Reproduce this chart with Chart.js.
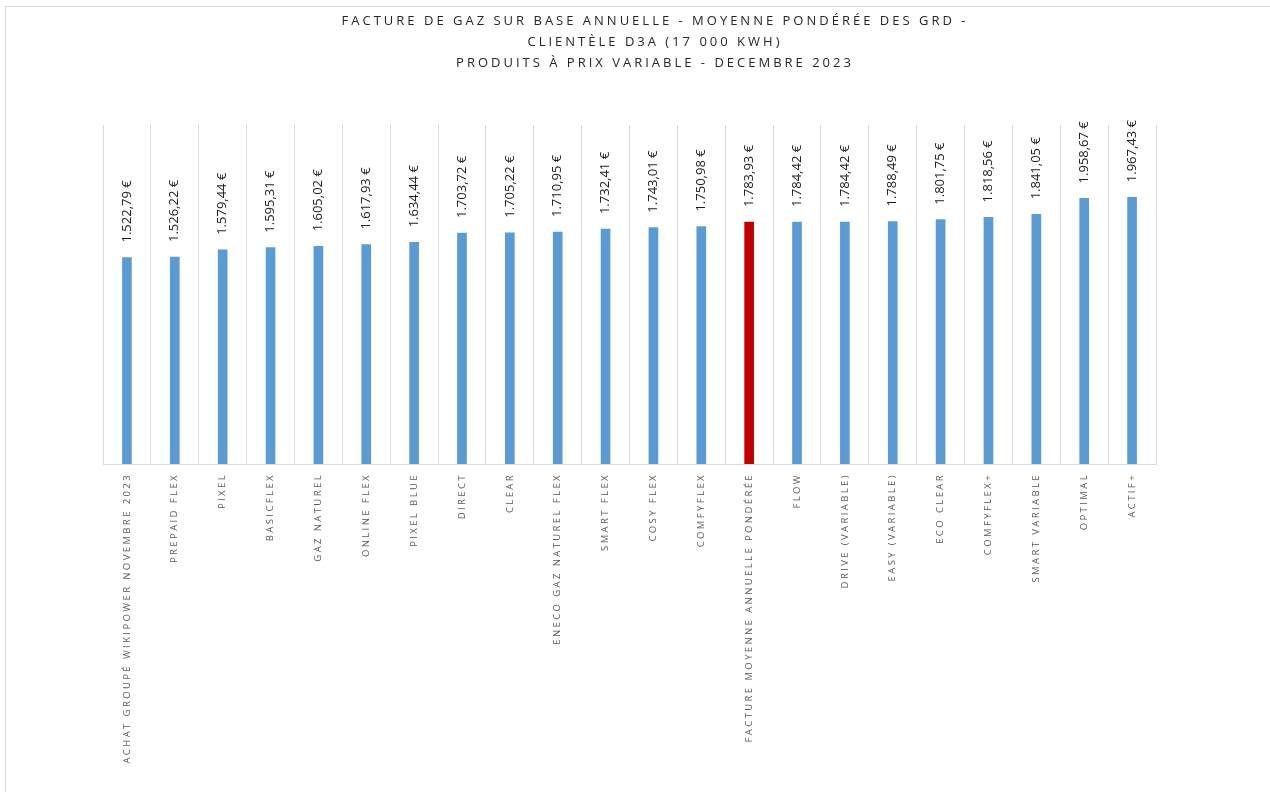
<!DOCTYPE html>
<html>
<head>
<meta charset="utf-8">
<script src="https://cdn.jsdelivr.net/npm/chart.js@4.4.1/dist/chart.umd.min.js"></script>
<style>
  html, body { margin: 0; padding: 0; background: #fff; }
  canvas { display: block; }
</style>
</head>
<body>
<canvas id="chart" width="1270" height="792"></canvas>
<script>
const titleLines = [
  'FACTURE DE GAZ SUR BASE ANNUELLE - MOYENNE PONDÉRÉE DES GRD -',
  'CLIENTÈLE D3A (17 000 KWH)',
  'PRODUITS À PRIX VARIABLE - DECEMBRE 2023'
];
const categories = [
  'ACHAT GROUPÉ WIKIPOWER NOVEMBRE 2023', 'PREPAID FLEX', 'PIXEL', 'BASICFLEX', 'GAZ NATUREL',
  'ONLINE FLEX', 'PIXEL BLUE', 'DIRECT', 'CLEAR', 'ENECO GAZ NATUREL FLEX', 'SMART FLEX',
  'COSY FLEX', 'COMFYFLEX', 'FACTURE MOYENNE ANNUELLE PONDÉRÉE', 'FLOW', 'DRIVE (VARIABLE)',
  'EASY (VARIABLE)', 'ECO CLEAR', 'COMFYFLEX+', 'SMART VARIABLE', 'OPTIMAL', 'ACTIF+'
];
const values = [
  1522.79, 1526.22, 1579.44, 1595.31, 1605.02, 1617.93, 1634.44, 1703.72, 1705.22, 1710.95, 1732.41,
  1743.01, 1750.98, 1783.93, 1784.42, 1784.42, 1788.49, 1801.75, 1818.56, 1841.05, 1958.67, 1967.43
];
const averageIndex = 13;
const yMax = 2500;

const BLUE = '#5b9bd5';
const RED = '#c00000';

const fmtEuro = (v) => {
  const [int, dec] = v.toFixed(2).split('.');
  return int.replace(/\B(?=(\d{3})+(?!\d))/g, '.') + ',' + dec + ' €';
};

const textPlugin = {
  id: 'texts',
  beforeDraw(chart) {
    const ctx = chart.ctx;
    ctx.save();
    ctx.strokeStyle = '#d9d9d9';
    ctx.lineWidth = 1;
    ctx.strokeRect(5.5, 6.5, 3000, 3000);
    ctx.restore();
  },
  afterDraw(chart) {
    const ctx = chart.ctx;
    const x = chart.scales.x;
    const area = chart.chartArea;

    // title
    ctx.save();
    ctx.fillStyle = '#262626';
    ctx.font = '13px "Open Sans"';
    ctx.letterSpacing = '3px';
    ctx.textAlign = 'center';
    ctx.textBaseline = 'middle';
    titleLines.forEach((t, i) => ctx.fillText(t, 655, 21 + i * 21));
    ctx.restore();

    // category labels
    ctx.save();
    ctx.fillStyle = '#595959';
    ctx.font = '9.5px "Open Sans"';
    ctx.letterSpacing = '2.4px';
    ctx.textAlign = 'right';
    ctx.textBaseline = 'middle';
    categories.forEach((c, i) => {
      ctx.save();
      ctx.translate(x.getPixelForValue(i), area.bottom + 9);
      ctx.rotate(-Math.PI / 2);
      ctx.fillText(c, 0, 0);
      ctx.restore();
    });
    ctx.restore();

    // value labels
    const meta = chart.getDatasetMeta(0);
    ctx.save();
    ctx.fillStyle = '#1a1a1a';
    ctx.font = '13px "Open Sans"';
    ctx.textAlign = 'left';
    ctx.textBaseline = 'middle';
    meta.data.forEach((bar, i) => {
      ctx.save();
      ctx.translate(bar.x, bar.y - 15);
      ctx.rotate(-Math.PI / 2);
      ctx.fillText(fmtEuro(values[i]), 0, 0);
      ctx.restore();
    });
    ctx.restore();
  }
};

new Chart(document.getElementById('chart'), {
  type: 'bar',
  data: {
    labels: categories,
    datasets: [{
      data: values,
      backgroundColor: values.map((v, i) => i === averageIndex ? RED : BLUE),
      barThickness: 9,
      borderWidth: 0
    }]
  },
  options: {
    responsive: false,
    animation: false,
    devicePixelRatio: 1,
    layout: { padding: { left: 103, right: 114, top: 125, bottom: 328 } },
    plugins: { legend: { display: false }, tooltip: { enabled: false } },
    scales: {
      x: {
        grid: { color: '#d9d9d9', drawTicks: false, offset: true },
        border: { color: '#d9d9d9' },
        ticks: { display: false }
      },
      y: {
        display: false,
        min: 0,
        max: yMax
      }
    }
  },
  plugins: [textPlugin]
});
</script>
</body>
</html>
